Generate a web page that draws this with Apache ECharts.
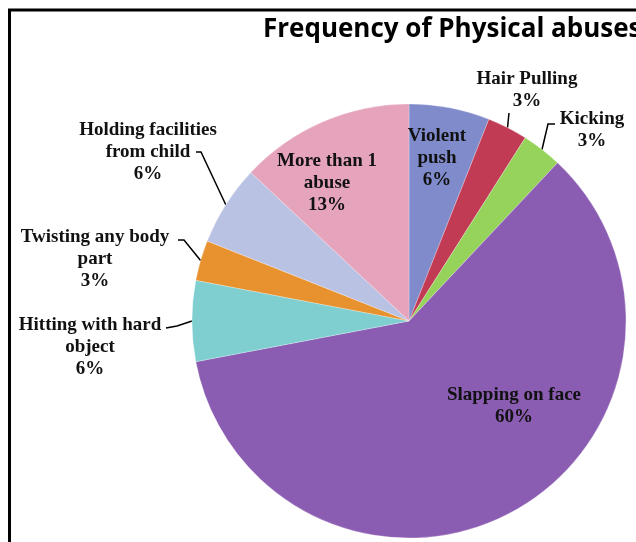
<!DOCTYPE html>
<html><head><meta charset="utf-8">
<script src="https://cdn.jsdelivr.net/npm/echarts@6/dist/echarts.min.js"></script>
<style>html,body{margin:0;padding:0;background:#fff}#c{width:636px;height:542px}</style>
</head><body><div id="c"></div>
<script>
const categories = ['Violent push', 'Hair Pulling', 'Kicking', 'Slapping on face', 'Hitting with hard object', 'Twisting any body part', 'Holding facilities from child', 'More than 1 abuse'];
const values = [6, 3, 3, 60, 6, 3, 6, 13];
const chartTitle = 'Frequency of Physical abuses';

const colors = ['#7F8BCB', '#C23B55', '#96D35A', '#8B5DB2', '#7FCFD0', '#E8922F', '#BAC2E3', '#E6A3BC'];
const wrapped = {
  'Violent push': 'Violent\npush',
  'Hair Pulling': 'Hair Pulling',
  'Kicking': 'Kicking',
  'Slapping on face': 'Slapping on face',
  'Hitting with hard object': 'Hitting with hard\nobject',
  'Twisting any body part': 'Twisting any body\npart',
  'Holding facilities from child': 'Holding facilities\nfrom child',
  'More than 1 abuse': 'More than 1\nabuse'
};
const insideSet = { 'Violent push': 1, 'Slapping on face': 1, 'More than 1 abuse': 1 };

const CX = 409, CY = 321, R = 217;
const chart = echarts.init(document.getElementById('c'), null, { renderer: 'canvas' });
const data = categories.map((c, i) => ({
  name: c,
  value: values[i],
  itemStyle: { color: colors[i] },
  label: { position: insideSet[c] ? 'inside' : 'outside' },
  labelLine: { show: !insideSet[c] }
}));
// label centres (px) and leader-line anchor offsets relative to the label centre
const labelAt = [[437, 158], [527, 90], [592, 130], [514, 406], [90, 347], [95, 259], [148, 152], [327, 183]];
const anchorOff = [null, [[-18, 23], [-18, 23]], [[-37, -6], [-44, -6]], null, [[76, -19], [87, -21]], [[83, -19], [89, -19]], [[48, 0], [53, 0]], null];
const total = values.reduce((a, b) => a + b, 0);
function edgePoint(i) {
  let before = 0;
  for (let k = 0; k < i; k++) before += values[k];
  const a = (before + values[i] / 2) / total * Math.PI * 2;
  return [CX + Math.sin(a) * R, CY - Math.cos(a) * R];
}
chart.setOption({
  animation: false,
  backgroundColor: '#fff',
  title: {
    text: chartTitle, left: 258, top: 12,
    textStyle: { fontFamily: 'Open Sans', fontWeight: 'bold', fontSize: 26, color: '#000' }
  },
  graphic: [{
    type: 'rect', shape: { x: 9.5, y: 10, width: 800, height: 700 },
    style: { fill: 'none', stroke: '#000', lineWidth: 3 }, silent: true
  }],
  series: [{
    type: 'pie',
    center: [CX, CY],
    radius: R,
    startAngle: 90,
    clockwise: true,
    data: data,
    itemStyle: { borderColor: 'rgba(255,255,255,0.5)', borderWidth: 0.5 },
    label: {
      show: true, overflow: 'none', alignTo: 'none',
      fontFamily: 'Liberation Serif', fontWeight: 'bold', fontSize: 19, lineHeight: 22,
      color: '#111', align: 'center',
      formatter: p => wrapped[p.name] + '\n' + p.value + '%'
    },
    labelLine: { show: true, length: 8, length2: 6, lineStyle: { color: '#000', width: 1.5 } },
    labelLayout: function (p) {
      const i = p.dataIndex;
      const pos = labelAt[i];
      const res = { x: pos[0], y: pos[1], align: 'center', verticalAlign: 'middle' };
      if (anchorOff[i]) {
        const o = anchorOff[i];
        res.labelLinePoints = [
          [pos[0] + o[0][0], pos[1] + o[0][1]],
          [pos[0] + o[1][0], pos[1] + o[1][1]],
          edgePoint(i)
        ];
      }
      return res;
    }
  }]
});
</script></body></html>
